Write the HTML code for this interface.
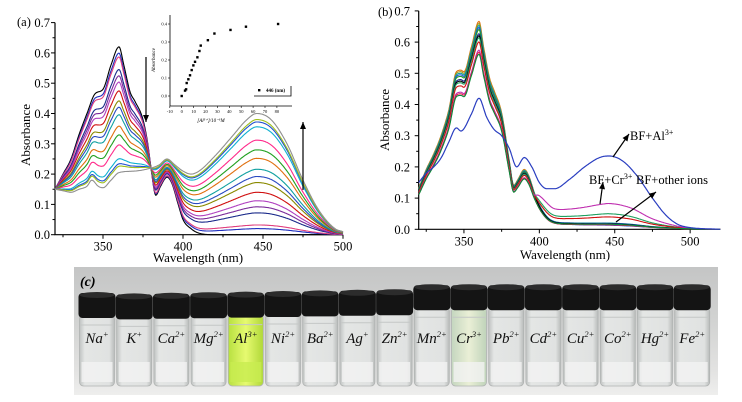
<!DOCTYPE html>
<html><head><meta charset="utf-8"><style>
html,body{margin:0;padding:0;background:#fff}
svg{display:block;font-family:"Liberation Serif",serif}
</style></head><body>
<svg id="fig" width="742" height="402" viewBox="0 0 742 402" xmlns="http://www.w3.org/2000/svg">
<defs>
<linearGradient id="bg" x1="0" y1="0" x2="0" y2="1"><stop offset="0" stop-color="#c4c5c5"/><stop offset="0.45" stop-color="#d3d4d3"/><stop offset="0.8" stop-color="#e2e2e1"/><stop offset="1" stop-color="#eeeeed"/></linearGradient>
<linearGradient id="glass" x1="0" y1="0" x2="1" y2="0"><stop offset="0" stop-color="#bfc2c1"/><stop offset="0.15" stop-color="#e4e6e5"/><stop offset="0.85" stop-color="#e0e2e1"/><stop offset="1" stop-color="#b8bbba"/></linearGradient>
<linearGradient id="alglass" x1="0" y1="0" x2="1" y2="0"><stop offset="0" stop-color="#b8e040"/><stop offset="0.5" stop-color="#e6fa70"/><stop offset="1" stop-color="#b0d838"/></linearGradient>
<linearGradient id="crglass" x1="0" y1="0" x2="1" y2="0"><stop offset="0" stop-color="#c4d6bf"/><stop offset="0.5" stop-color="#eaefd6"/><stop offset="1" stop-color="#bfd3ba"/></linearGradient>
</defs>
<g id="panelA"></g>
<g id="panelB"></g>
<g id="photo"></g>
</svg>
<script>
// ---------- Panel (a) data ----------
const wlL = [320,325,330,335,340,345,350,355,360,363,367,370,375,378,380,383,386,390,393,397,400,405,410,420,500];
const absLigand = [0.15,0.2,0.25,0.33,0.40,0.465,0.48,0.56,0.62,0.56,0.47,0.44,0.38,0.30,0.22,0.13,0.16,0.19,0.17,0.10,0.05,0.02,0.005,0,0];
const wlC = [320,325,330,335,340,343,347,350,355,360,370,380,385,390,395,400,405,410,420,430,440,446,455,465,475,485,495,500];
const absComplex = [0.15,0.145,0.14,0.15,0.16,0.18,0.16,0.155,0.18,0.205,0.21,0.22,0.23,0.25,0.23,0.21,0.2,0.21,0.26,0.32,0.38,0.40,0.38,0.30,0.18,0.08,0.02,0.01];
const complexFraction = [0,0.05,0.08,0.18,0.23,0.28,0.35,0.43,0.48,0.54,0.63,0.70,0.78,0.89,0.93,0.95,1.0];
const colorsA = ['#000000','#1f2fbf','#e0407f','#1a2a8a','#7b2a9a','#b040c0','#d01010','#8a8a00','#2a4ac0','#10a0a0','#e07010','#20a020','#ff2a8a','#10b0d0','#2050d0','#a0c020','#909090'];
const xTicksA = [350,400,450,500];
const yTicksA = [0,0.1,0.2,0.3,0.4,0.5,0.6,0.7];
// inset
const insetConc = [0,2.8,3.7,4.2,5.6,7,8.4,9.8,11.2,13.2,14.9,16,22,27.5,41,54,81];
const insetAbs = [0,0.03,0.037,0.072,0.093,0.115,0.144,0.17,0.19,0.215,0.25,0.28,0.31,0.347,0.367,0.385,0.40];
const insetXTicks = [-10,0,10,20,30,40,50,60,70,80];
const insetYTicks = [0,0.1,0.2,0.3,0.4];
// ---------- Panel (b) data ----------
const wlB = [320,325,330,335,340,345,348,350,355,360,363,367,370,375,380,383,386,390,393,397,400,405,410,420,520];
const absFreeB = [0.13,0.19,0.24,0.30,0.38,0.50,0.505,0.50,0.58,0.66,0.58,0.48,0.44,0.37,0.22,0.14,0.16,0.19,0.17,0.11,0.07,0.03,0.015,0.01,0];
const wlAl = [320,325,330,335,340,345,348,355,360,365,370,375,380,385,390,395,400,405,410,420,430,440,446,455,465,475,485,495,520];
const absAl = [0.15,0.18,0.2,0.23,0.28,0.325,0.315,0.37,0.42,0.36,0.32,0.30,0.26,0.20,0.23,0.20,0.15,0.13,0.13,0.16,0.2,0.23,0.235,0.22,0.17,0.10,0.04,0.01,0];
const wlTail = [320,395,400,405,410,420,430,440,446,460,475,490,500,520];
const tailShape = [0,0,0.6,0.75,0.68,0.72,0.82,0.95,1.0,0.85,0.4,0.13,0.03,0];
const scaleB = [1.01,1.0,0.99,0.98,0.97,0.95,0.94,0.93,0.91,0.87,0.86,0.85];
const tailB = [0.01,0.012,0.015,0.008,0.01,0.014,0.012,0.045,0.035,0.078,0.01,0.012];
const colorsB = ['#e07010','#a0a020','#10a0a0','#2050d0','#20a020','#1a2a8a','#000000','#20a060','#d01010','#c030b0','#e02050','#0a8a3a'];
const xTicksB = [350,400,450,500];
const yTicksB = [0,0.1,0.2,0.3,0.4,0.5,0.6,0.7];
// ---------- Photo data ----------
const ions = ['Na','K','Ca','Mg','Al','Ni','Ba','Ag','Zn','Mn','Cr','Pb','Cd','Cu','Co','Hg','Fe'];
const charges = ['+','+','2+','2+','3+','2+','2+','+','2+','2+','3+','2+','2+','2+','2+','2+','2+'];

const NS='http://www.w3.org/2000/svg';
function mk(parent,tag,attrs,text){const e=document.createElementNS(NS,tag);for(const k in attrs)e.setAttribute(k,attrs[k]);if(text!==undefined)e.textContent=text;parent.appendChild(e);return e;}
// monotone cubic Hermite interpolation
function interp(xs,ys,x){
  const n=xs.length;if(x<=xs[0])return ys[0];if(x>=xs[n-1])return ys[n-1];
  let i=1;while(x>xs[i])i++;i--;
  const d=[],m=[];for(let k=0;k<n-1;k++)d.push((ys[k+1]-ys[k])/(xs[k+1]-xs[k]));
  for(let k=0;k<n;k++){if(k===0)m.push(d[0]);else if(k===n-1)m.push(d[n-2]);else m.push(d[k-1]*d[k]<=0?0:(d[k-1]+d[k])/2);}
  for(let k=0;k<n-1;k++){if(d[k]===0){m[k]=0;m[k+1]=0;continue;}const a=m[k]/d[k],b=m[k+1]/d[k],s=a*a+b*b;if(s>9){const t=3/Math.sqrt(s);m[k]=t*a*d[k];m[k+1]=t*b*d[k];}}
  const h=xs[i+1]-xs[i],t=(x-xs[i])/h,t2=t*t,t3=t2*t;
  return (2*t3-3*t2+1)*ys[i]+(t3-2*t2+t)*h*m[i]+(-2*t3+3*t2)*ys[i+1]+(t3-t2)*h*m[i+1];
}
function linePath(pts){return 'M'+pts.map(p=>p[0].toFixed(1)+','+p[1].toFixed(1)).join('L');}
function arrow(g,x1,y1,x2,y2,name){const l=mk(g,'line',{x1:x1,y1:y1,x2:x2,y2:y2,stroke:'#000','stroke-width':1.2});const a=Math.atan2(y2-y1,x2-x1),s=7;const p=[[x2,y2],[x2-s*Math.cos(a)+3*Math.sin(a),y2-s*Math.sin(a)-3*Math.cos(a)],[x2-s*Math.cos(a)-3*Math.sin(a),y2-s*Math.sin(a)+3*Math.cos(a)]];const h=mk(g,'polygon',{points:p.map(q=>q.join(',')).join(' '),fill:'#000'});}
function axes(g,xs,ys,xTicks,yTicks,xmin,xmax,ylabX){
  const ax=mk(g,'path',{d:`M${xs(xmin)},${ys(0.7)}V${ys(0)}H${xs(xmax)}`,fill:'none',stroke:'#000','stroke-width':1.2});
  
  for(let w=325;w<=xmax;w+=25){const maj=w%50===0;mk(g,'line',{x1:xs(w),x2:xs(w),y1:ys(0),y2:ys(0)+(maj?4:2.5),stroke:'#000'});}
  xTicks.forEach(w=>{const t=mk(g,'text',{x:xs(w),y:ys(0)+16,'text-anchor':'middle','font-size':12.5},String(w));});
  yTicks.forEach(v=>{mk(g,'line',{x1:xs(xmin)-4,x2:xs(xmin),y1:ys(v),y2:ys(v),stroke:'#000'});if(v<0.7)mk(g,'line',{x1:xs(xmin)-2.5,x2:xs(xmin),y1:ys(v+0.05),y2:ys(v+0.05),stroke:'#000'});const t=mk(g,'text',{x:ylabX,y:ys(v)+4.5,'text-anchor':'end','font-size':12.5},v.toFixed(1));});
}

// ---------- Panel A ----------
(function(){
const g=document.getElementById('panelA');
const xs=w=>55+(w-320)*1.6, ys=v=>234.7-v*303;
axes(g,xs,ys,xTicksA,yTicksA,320,500,50);
let t=mk(g,'text',{x:17,y:26,'font-size':12.5},'(a)');
t=mk(g,'text',{x:30,y:135,'font-size':13,'text-anchor':'middle',transform:'rotate(-90 30 135)'},'Absorbance');
t=mk(g,'text',{x:198,y:262,'font-size':13,'text-anchor':'middle'},'Wavelength (nm)');
complexFraction.forEach((f,i)=>{const pts=[];for(let w=320;w<=500;w+=0.5){const v=(1-f)*interp(wlL,absLigand,w)+f*interp(wlC,absComplex,w);pts.push([xs(w),ys(v)]);}
 const p=mk(g,'path',{d:linePath(pts),fill:'none',stroke:colorsA[i],'stroke-width':1.1,'stroke-linejoin':'round'});
 });
arrow(g,146,57,146,122,'decrease-arrow');
arrow(g,303,190,303,122,'increase-arrow');
// inset
const ix=c=>181.7+c*1.19, iy=v=>96-v*180;
const ig=mk(g,'g',{});
mk(ig,'rect',{x:170,y:14,width:125,height:92,fill:'#fff'});
mk(ig,'path',{d:`M170,15V106H292`,fill:'none',stroke:'#000','stroke-width':0.8});
insetXTicks.forEach(c=>{mk(ig,'line',{x1:ix(c),x2:ix(c),y1:106,y2:108,stroke:'#000','stroke-width':0.6});const tt=mk(ig,'text',{x:ix(c),y:113,'font-size':4.5,'text-anchor':'middle'},String(c));});
insetYTicks.forEach(v=>{mk(ig,'line',{x1:168,x2:170,y1:iy(v),y2:iy(v),stroke:'#000','stroke-width':0.6});const tt=mk(ig,'text',{x:167,y:iy(v)+1.5,'font-size':4.5,'text-anchor':'end'},v.toFixed(1));});
insetConc.forEach((c,i)=>{const r=mk(ig,'rect',{x:ix(c)-1.2,y:iy(insetAbs[i])-1.2,width:2.4,height:2.4,fill:'#000'});});
t=mk(ig,'text',{x:155,y:60,'font-size':5,'font-style':'italic','text-anchor':'middle',transform:'rotate(-90 155 60)'},'Absorbance');
t=mk(ig,'text',{x:211,y:122,'font-size':5,'font-style':'italic','text-anchor':'middle'},'[Al³⁺]/10⁻⁶M');
mk(ig,'path',{d:'M254,96H291V86',fill:'none',stroke:'#000','stroke-width':0.8});
mk(ig,'rect',{x:258,y:89,width:2.4,height:2.4,fill:'#000'});
t=mk(ig,'text',{x:266,y:92,'font-size':5,'font-weight':'bold'},'446 (nm)');
})();

// ---------- Panel B ----------
(function(){
const g=document.getElementById('panelB');
const xs=w=>418.7+(w-320)*1.508, ys=v=>229.3-v*312;
axes(g,xs,ys,xTicksB,yTicksB,320,520,410);
let t=mk(g,'text',{x:378,y:16,'font-size':12.5},'(b)');
t=mk(g,'text',{x:389,y:120,'font-size':13,'text-anchor':'middle',transform:'rotate(-90 389 120)'},'Absorbance');
t=mk(g,'text',{x:565,y:259,'font-size':13,'text-anchor':'middle'},'Wavelength (nm)');
scaleB.forEach((s,i)=>{const pts=[];for(let w=320;w<=520;w+=0.5){const v=s*interp(wlB,absFreeB,w)+tailB[i]*interp(wlTail,tailShape,w);pts.push([xs(w),ys(v)]);}
 const p=mk(g,'path',{d:linePath(pts),fill:'none',stroke:colorsB[i],'stroke-width':1.1,'stroke-linejoin':'round'});
 });
const pts=[];for(let w=320;w<=520;w+=0.5)pts.push([xs(w),ys(interp(wlAl,absAl,w))]);
const p=mk(g,'path',{d:linePath(pts),fill:'none',stroke:'#2a3ec0','stroke-width':1.2,'stroke-linejoin':'round'});
arrow(g,613,157,629,134,'al-arrow');
arrow(g,600,204,603,182,'cr-arrow');
arrow(g,616,222,656,192,'other-ions-arrow');
t=mk(g,'text',{x:630,y:140,'font-size':12.5},'BF+Al');
mk(t,'tspan',{dy:-5,'font-size':8},'3+');
t=mk(g,'text',{x:589,y:184,'font-size':12.5},'BF+Cr');
mk(t,'tspan',{dy:-5,'font-size':8},'3+');
t=mk(g,'text',{x:636,y:184,'font-size':12.5},'BF+other ions');
})();

// ---------- Photo ----------
(function(){
const g=document.getElementById('photo');
const bgR=mk(g,'rect',{x:74,y:267,width:644,height:128,fill:'url(#bg)'});
let t=mk(g,'text',{x:80,y:286,'font-size':14,'font-style':'italic','font-weight':'bold'},'(c)');
ions.forEach((ion,i)=>{
 const cx=97+i*37.2, w=35, top=297-Math.min(i,8)*0.6-(i>8?5:0)+(i===0?-2:0);
 const vg=mk(g,'g',{});
 const fill=ion==='Al'?'url(#alglass)':(ion==='Cr'?'url(#crglass)':'url(#glass)');
 mk(vg,'rect',{x:cx-w/2,y:top+20,width:w,height:386-top-20,rx:4,fill:fill,stroke:'#b0b3b2','stroke-width':0.8});
 mk(vg,'rect',{x:cx-w/2+2,y:362,width:w-4,height:20,fill:ion==='Al'?'#c8ec50':'#f2f3f2',opacity:0.8});
 mk(vg,'line',{x1:cx-w/2+1,x2:cx+w/2-1,y1:top+30,y2:top+30,stroke:'#c4c7c6','stroke-width':1});
 mk(vg,'rect',{x:cx-w/2-1,y:top-2,width:w+2,height:25,rx:4,fill:'#141414'});
 mk(vg,'ellipse',{cx:cx,cy:top,rx:w/2,ry:3,fill:'#2c2c2c'});
 const tx=mk(vg,'text',{x:cx,y:343,'font-size':15,'font-style':'italic','text-anchor':'middle',fill:'#111'},ion);
 
 mk(tx,'tspan',{dy:-6,'font-size':8.5},charges[i]);
});
})();
</script>
</body></html>
